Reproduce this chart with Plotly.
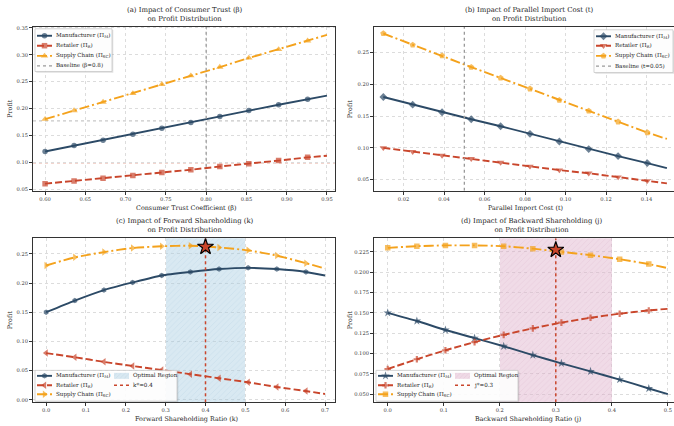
import plotly.graph_objects as go

W, H = 674, 426
FONT = "DejaVu Serif"

# ---------------- data ----------------
# (a) consumer trust coefficient beta
beta_x    = [0.600, 0.636, 0.672, 0.709, 0.745, 0.781, 0.817, 0.853, 0.890, 0.926, 0.950]
beta_manu = [0.120, 0.131, 0.141, 0.152, 0.163, 0.174, 0.185, 0.196, 0.207, 0.217, 0.224]
beta_ret  = [0.060, 0.065, 0.070, 0.075, 0.081, 0.086, 0.092, 0.097, 0.103, 0.109, 0.112]
beta_sc   = [0.180, 0.196, 0.212, 0.228, 0.245, 0.261, 0.277, 0.294, 0.310, 0.326, 0.337]
beta_baseline = 0.8
beta_ref_levels = [0.177, 0.098]

# (b) parallel import cost t
t_x    = [0.010, 0.0245, 0.039, 0.0534, 0.0679, 0.0824, 0.0969, 0.1114, 0.1259, 0.1403, 0.150]
t_manu = [0.180, 0.168, 0.156, 0.145, 0.134, 0.122, 0.110, 0.098, 0.087, 0.076, 0.068]
t_ret  = [0.100, 0.094, 0.088, 0.083, 0.077, 0.071, 0.065, 0.060, 0.054, 0.048, 0.044]
t_sc   = [0.280, 0.262, 0.245, 0.227, 0.210, 0.193, 0.175, 0.158, 0.141, 0.124, 0.114]
t_baseline = 0.05

# (c) forward shareholding k
k_x    = [0.000, 0.072, 0.145, 0.217, 0.290, 0.362, 0.434, 0.507, 0.579, 0.652, 0.700]
k_manu = [0.150, 0.170, 0.188, 0.201, 0.213, 0.219, 0.224, 0.226, 0.224, 0.219, 0.213]
k_ret  = [0.080, 0.073, 0.065, 0.058, 0.051, 0.044, 0.037, 0.030, 0.022, 0.015, 0.010]
k_sc   = [0.230, 0.244, 0.253, 0.260, 0.263, 0.264, 0.261, 0.256, 0.247, 0.234, 0.225]
k_region = [0.3, 0.5]
k_opt = 0.4
k_opt_profit = 0.262

# (d) backward shareholding j
j_x    = [0.000, 0.052, 0.103, 0.155, 0.207, 0.259, 0.310, 0.362, 0.414, 0.466, 0.500]
j_manu = [0.150, 0.140, 0.129, 0.119, 0.109, 0.098, 0.088, 0.078, 0.068, 0.057, 0.050]
j_ret  = [0.081, 0.093, 0.104, 0.114, 0.123, 0.131, 0.138, 0.144, 0.149, 0.153, 0.155]
j_sc   = [0.230, 0.232, 0.233, 0.233, 0.232, 0.229, 0.225, 0.221, 0.216, 0.210, 0.205]
j_region = [0.2, 0.4]
j_opt = 0.3
j_opt_profit = 0.2275

# ---------------- style ----------------
C_M = "#2C4A66"
C_R = "#C9462C"
C_S = "#F4A21C"
DASH_R = "7px,3px"
DASH_S = "10px,3px,2px,3px"
LW = 1.9
MS = 5.5
FS_TITLE = 6.9
FS_LABEL = 6.4
FS_TICK = 5.2
FS_LEG = 5.6

XR = {"a": [0.585, 0.960], "b": [0.0054, 0.1535], "c": [-0.033, 0.725], "d": [-0.0245, 0.511]}
YR = {"a": [0.047, 0.352], "b": [0.0326, 0.2905], "c": [-0.004, 0.2766], "d": [0.0402, 0.2417]}
XDOM_L = [33 / W, 335 / W]
XDOM_R = [374 / W, 1.0]
YDOM_T = [1 - 190 / H, 1 - 25 / H]
YDOM_B = [1 - 403 / H, 1 - 238 / H]

fig = go.Figure()


def sizes(n, ms):
    return [ms] * (n - 1) + [0]


def series(xs, ys, color, dash, symbol, ax, ms=MS, shape="linear"):
    fig.add_trace(go.Scatter(
        x=xs, y=ys, mode="lines+markers", xaxis="x" + ax, yaxis="y" + ax,
        line=dict(color=color, width=LW, dash=dash, shape=shape, smoothing=0.6),
        marker=dict(symbol=symbol, size=sizes(len(xs), ms), color=color, line=dict(width=0)),
        showlegend=False, hoverinfo="skip"))


def vline(v, yr, color, ax, width=1.3):
    fig.add_trace(go.Scatter(
        x=[v, v], y=yr, mode="lines", xaxis="x" + ax, yaxis="y" + ax,
        line=dict(color=color, width=width, dash="dot"), showlegend=False, hoverinfo="skip"))


def region(bounds, yr, color, fg, ax):
    fig.add_trace(go.Bar(
        x=[(bounds[0] + bounds[1]) / 2], y=[yr[1] - yr[0]], base=[yr[0]],
        width=[bounds[1] - bounds[0]], xaxis="x" + ax, yaxis="y" + ax,
        marker=dict(color=color, line=dict(width=0),
                    pattern=dict(shape="/", fgcolor=fg, size=4, solidity=0.12, fillmode="overlay")),
        showlegend=False, hoverinfo="skip"))


def star(x, y, ax):
    fig.add_trace(go.Scatter(
        x=[x], y=[y], mode="markers", xaxis="x" + ax, yaxis="y" + ax,
        marker=dict(symbol="star", size=12, color=C_R, line=dict(color="black", width=1.2)),
        showlegend=False, hoverinfo="skip"))


C_BLUE_REG = "rgba(165,202,224,0.42)"
C_BLUE_HATCH = "rgba(120,168,200,0.5)"
C_PINK_REG = "rgba(222,175,202,0.45)"
C_PINK_HATCH = "rgba(195,130,168,0.5)"
region(k_region, YR["c"], C_BLUE_REG, C_BLUE_HATCH, "3")
region(j_region, YR["d"], C_PINK_REG, C_PINK_HATCH, "4")

# (a)
series(beta_x, beta_manu, C_M, "solid", "circle", "")
series(beta_x, beta_ret, C_R, DASH_R, "square", "")
series(beta_x, beta_sc, C_S, DASH_S, "triangle-up", "", ms=6.5)
vline(beta_baseline, YR["a"], "#9a9a9a", "")
# (b)
series(t_x, t_manu, C_M, "solid", "diamond", "2", ms=6)
series(t_x, t_ret, C_R, DASH_R, "triangle-down", "2", ms=6.5)
series(t_x, t_sc, C_S, DASH_S, "pentagon", "2", ms=6.5)
vline(t_baseline, YR["b"], "#9a9a9a", "2")
# (c)
series(k_x, k_manu, C_M, "solid", "hexagon", "3", shape="spline")
series(k_x, k_ret, C_R, DASH_R, "triangle-left", "3", ms=6.5, shape="spline")
series(k_x, k_sc, C_S, DASH_S, "triangle-right", "3", ms=6.5, shape="spline")
vline(k_opt, YR["c"], C_R, "3", width=1.5)
star(k_opt, k_opt_profit, "3")
# (d)
series(j_x, j_manu, C_M, "solid", "star", "4", ms=6.5, shape="spline")
series(j_x, j_ret, C_R, DASH_R, "cross", "4", ms=5.5, shape="spline")
series(j_x, j_sc, C_S, DASH_S, "square", "4", ms=5.5, shape="spline")
vline(j_opt, YR["d"], C_R, "4", width=1.5)
star(j_opt, j_opt_profit, "4")

# horizontal reference levels in (a)
shapes = []
for lvl, col in zip(beta_ref_levels, ["rgba(130,130,130,0.45)", "rgba(220,130,110,0.45)"]):
    shapes.append(dict(type="line", xref="x domain", yref="y", x0=0, x1=1, y0=lvl, y1=lvl,
                       line=dict(color=col, width=1.1, dash="dot"), layer="below"))

# ---------------- custom legends (pixel overlay axis) ----------------
annotations = []


def leg_box(x0, y0, x1, y1):
    for dx, col, lc in [(1.3, "rgba(0,0,0,0.12)", "rgba(0,0,0,0)"), (0, "rgba(255,255,255,0.92)", "#c8c8c8")]:
        fig.add_trace(go.Scatter(
            x=[x0 + dx, x1 + dx, x1 + dx, x0 + dx, x0 + dx],
            y=[y0 + dx, y0 + dx, y1 + dx, y1 + dx, y0 + dx],
            mode="lines", fill="toself", fillcolor=col, line=dict(color=lc, width=0.8),
            xaxis="x5", yaxis="y5", showlegend=False, hoverinfo="skip"))


def leg_text(x, y, text):
    annotations.append(dict(x=x, y=y, xref="x5", yref="y5", text=text, showarrow=False,
                            xanchor="left", yanchor="middle", borderpad=0,
                            font=dict(family=FONT, size=FS_LEG, color="#222")))


def leg_line(x, y, text, color, dash, symbol=None, ms=MS, width=LW):
    if symbol is None:
        fig.add_trace(go.Scatter(x=[x, x + 15], y=[y, y], mode="lines",
                                 line=dict(color=color, width=width, dash=dash),
                                 xaxis="x5", yaxis="y5", showlegend=False, hoverinfo="skip"))
    else:
        fig.add_trace(go.Scatter(x=[x, x + 7.5, x + 15], y=[y, y, y], mode="lines+markers",
                                 line=dict(color=color, width=width, dash=dash),
                                 marker=dict(symbol=symbol, size=[0, ms, 0], color=color, line=dict(width=0)),
                                 xaxis="x5", yaxis="y5", showlegend=False, hoverinfo="skip"))
    leg_text(x + 18, y, text)


def leg_patch(x, y, text, color, fg):
    fig.add_trace(go.Scatter(x=[x, x + 15, x + 15, x, x], y=[y - 3, y - 3, y + 3, y + 3, y - 3],
                             mode="lines", fill="toself", fillcolor=color, line=dict(width=0, color=color),
                             fillpattern=dict(shape="/", fgcolor=fg, size=3, solidity=0.15, fillmode="overlay"),
                             xaxis="x5", yaxis="y5", showlegend=False, hoverinfo="skip"))
    leg_text(x + 18, y, text)


L_M = "Manufacturer (Π<sub>M</sub>)"
L_R = "Retailer (Π<sub>R</sub>)"
L_S = "Supply Chain (Π<sub>SC</sub>)"

# (a)
leg_box(35, 27, 112, 70)
leg_line(37, 34, L_M, C_M, "solid", "circle")
leg_line(37, 44, L_R, C_R, DASH_R, "square")
leg_line(37, 54.3, L_S, C_S, DASH_S, "triangle-up", ms=6.5)
leg_line(37, 64.3, "Baseline (β=0.8)", "#9a9a9a", "dot", width=1.3)
# (b)
leg_box(594, 28, 673, 71)
leg_line(596, 34.5, L_M, C_M, "solid", "diamond", ms=6)
leg_line(596, 44, L_R, C_R, DASH_R, "triangle-down", ms=6.5)
leg_line(596, 54.3, L_S, C_S, DASH_S, "pentagon", ms=6.5)
leg_line(596, 64.5, "Baseline (t=0.05)", "#9a9a9a", "dot", width=1.3)
# (c)
leg_box(35, 371, 177, 402)
leg_line(37, 376.5, L_M, C_M, "solid", "hexagon")
leg_line(37, 386, L_R, C_R, DASH_R, "triangle-left", ms=6.5)
leg_line(37, 395, L_S, C_S, DASH_S, "triangle-right", ms=6.5)
leg_patch(114, 376.5, "Optimal Region", C_BLUE_REG, C_BLUE_HATCH)
leg_line(114, 386, "k*=0.4", C_R, "dot", width=1.5)
# (d)
leg_box(376, 371, 518, 402)
leg_line(378, 376.5, L_M, C_M, "solid", "star", ms=6.5)
leg_line(378, 386, L_R, C_R, DASH_R, "cross")
leg_line(378, 395, L_S, C_S, DASH_S, "square")
leg_patch(455, 376.5, "Optimal Region", C_PINK_REG, C_PINK_HATCH)
leg_line(455, 386, "j*=0.3", C_R, "dot", width=1.5)

# ---------------- titles and axis labels ----------------
titles = [
    ("(a) Impact of Consumer Trust (β)<br>on Profit Distribution", 185, 3),
    ("(b) Impact of Parallel Import Cost (t)<br>on Profit Distribution", 529, 3),
    ("(c) Impact of Forward Shareholding (k)<br>on Profit Distribution", 185, 216),
    ("(d) Impact of Backward Shareholding (j)<br>on Profit Distribution", 531, 216),
]
for txt, cx, ty in titles:
    annotations.append(dict(x=cx / W, y=1 - ty / H, xref="paper", yref="paper", text=txt,
                            showarrow=False, xanchor="center", yanchor="top", borderpad=0,
                            font=dict(family=FONT, size=FS_TITLE, color="#222")))

xlabels = [
    ("Consumer Trust Coefficient (β)", 186, 207),
    ("Parallel Import Cost (t)", 525, 207),
    ("Forward Shareholding Ratio (k)", 186, 419.5),
    ("Backward Shareholding Ratio (j)", 528, 419.5),
]
for txt, cx, cy in xlabels:
    annotations.append(dict(x=cx / W, y=1 - cy / H, xref="paper", yref="paper", text=txt,
                            showarrow=False, xanchor="center", yanchor="middle", borderpad=0,
                            font=dict(family=FONT, size=FS_LABEL, color="#222")))

for cx, cy in [(10, 107.5), (350, 108), (10, 320.5), (350, 320.5)]:
    annotations.append(dict(x=cx / W, y=1 - cy / H, xref="paper", yref="paper", text="Profit",
                            showarrow=False, xanchor="center", yanchor="middle", textangle=-90,
                            borderpad=0, font=dict(family=FONT, size=FS_LABEL, color="#222")))


# ---------------- axes ----------------
def ax_common(rng, dom, anchor, dtick, tick0, fmt, mirror=True):
    return dict(range=rng, domain=dom, anchor=anchor, dtick=dtick, tick0=tick0, tickformat=fmt,
                showline=True, linecolor="#333333", linewidth=0.9, mirror=mirror,
                ticks="outside", ticklen=3, tickwidth=0.8, tickcolor="#333333",
                tickfont=dict(family=FONT, size=FS_TICK, color="#333"),
                showgrid=True, gridcolor="#dcdcdc", gridwidth=0.6, griddash="dot", zeroline=False)


layout = dict(
    width=W, height=H, margin=dict(l=0, r=0, t=0, b=0),
    paper_bgcolor="white", plot_bgcolor="rgba(0,0,0,0)", showlegend=False,
    xaxis=ax_common(XR["a"], XDOM_L, "y", 0.05, 0.6, ".2f"),
    yaxis=ax_common(YR["a"], YDOM_T, "x", 0.05, 0.05, ".2f"),
    xaxis2=ax_common(XR["b"], XDOM_R, "y2", 0.02, 0.02, ".2f"),
    yaxis2=ax_common(YR["b"], YDOM_T, "x2", 0.05, 0.05, ".2f", mirror=False),
    xaxis3=ax_common(XR["c"], XDOM_L, "y3", 0.1, 0.0, ".1f"),
    yaxis3=ax_common(YR["c"], YDOM_B, "x3", 0.05, 0.0, ".2f"),
    xaxis4=ax_common(XR["d"], XDOM_R, "y4", 0.1, 0.0, ".1f"),
    yaxis4=ax_common(YR["d"], YDOM_B, "x4", 0.025, 0.05, ".3f", mirror=False),
    xaxis5=dict(domain=[0, 1], range=[0, W], anchor="y5", visible=False, fixedrange=True),
    yaxis5=dict(domain=[0, 1], range=[H, 0], anchor="x5", visible=False, fixedrange=True),
    shapes=shapes, annotations=annotations, bargap=0,
)
layout["xaxis2"]["mirror"] = True
layout["xaxis4"]["mirror"] = True
fig.update_layout(**layout)

fig.write_html("out.html", config={"displayModeBar": False},
               post_script="document.body.style.margin='0px';document.body.style.padding='0px';")
